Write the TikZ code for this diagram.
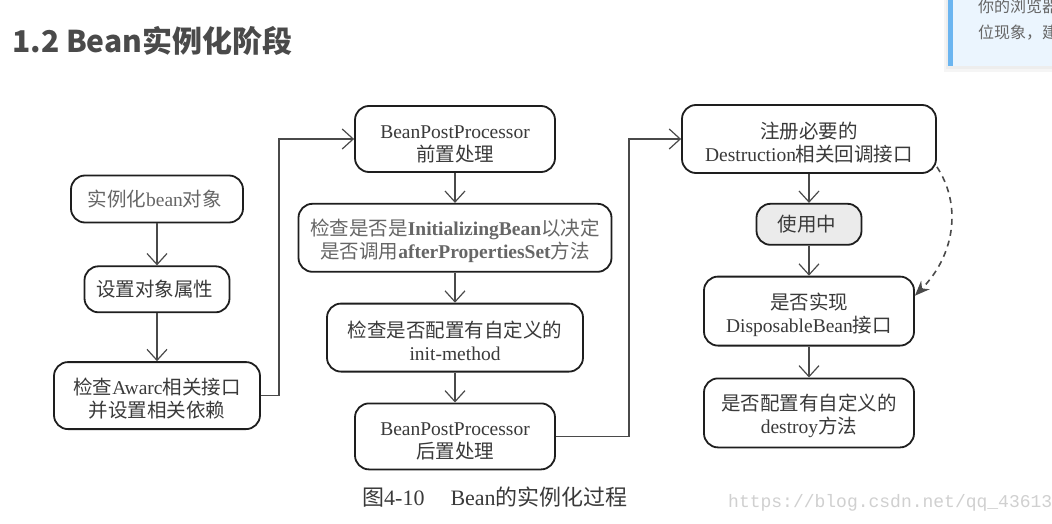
\documentclass[tikz,border=0pt]{standalone}
\usepackage{fontspec}
\setmainfont{Noto Sans CJK SC}
\newfontfamily\enfont{Liberation Serif}
\newfontfamily\monofont{Liberation Mono}
\newcommand{\en}[1]{{\enfont #1}}
\usetikzlibrary{arrows.meta, positioning}
\definecolor{boxline}{HTML}{1E1E1E}
\definecolor{boxtext}{HTML}{3A3A3A}
\definecolor{greytext}{HTML}{666666}
\definecolor{linegrey}{HTML}{4A4A4A}
\definecolor{usefill}{HTML}{EBEBEB}
\definecolor{headgrey}{HTML}{4A4A4A}
\definecolor{tipfill}{HTML}{EBF5FE}
\definecolor{tipbar}{HTML}{6BB5F0}
\definecolor{markgrey}{HTML}{D0D0D0}

\begin{document}
\begin{tikzpicture}[
        x=1pt, y=-1pt,
        box/.style={
            draw=boxline,
            line width=1.8pt,
            rounded corners=14pt,
            align=center,
            text=boxtext,
            inner sep=2pt,
            font=\fontsize{19.5}{23}\selectfont
        },
        tall/.style={
            text height=46pt
        },
        arr/.style={
            -{Straight Barb[length=11pt, width=20pt]},
            line width=1.2pt,
            draw=linegrey
        },
        dasharr/.style={
            -{Stealth[length=15pt, width=12pt]},
            line width=1.6pt,
            dash pattern=on 6pt off 5pt,
            draw=linegrey
        },
        plain/.style={
            anchor=base west,
            inner sep=0pt
        },
        node distance=30pt
    ]
        \clip (0,0) rectangle (1052,524);
        \fill[white] (0,0) rectangle (1052,524);

        \node[plain, text=headgrey, font=\fontsize{30}{30}\selectfont\bfseries] (title) at (12,53) {1.2 Bean实例化阶段};

        \fill[black!4] (944,0) rectangle (1052,72);
        \fill[black!7] (946,0) rectangle (1052,69);
        \fill[tipfill] (948,0) rectangle (1052,66);
        \fill[tipbar] (948,0) rectangle (953,66);
        \node[plain, text=greytext, font=\fontsize{16}{16}\selectfont] (tipa) at (978,13) {你的浏览器};
        \node[plain, text=greytext, font=\fontsize{16}{16}\selectfont] (tipb) at (978,39) {位现象，建};

        \node[box, text=greytext, minimum width=172pt, minimum height=47pt] (inst) at (157,199) {
            实例化\en{bean}对象
        };
        \node[box, minimum width=145pt, minimum height=46pt, below=42pt of inst] (props) {
            设置对象属性
        };
        \node[box, tall, minimum width=206pt, minimum height=67pt, below=48pt of props] (aware) {
            检查\en{Awarc}相关接口\\
            并设置相关依赖
        };

        \node[box, tall, minimum width=200pt, minimum height=66pt] (prebpp) at (455,139) {
            \en{BeanPostProcessor}\\
            前置处理
        };
        \node[box, tall, text=greytext, minimum width=313pt, minimum height=68pt, below=of prebpp] (initbean) {
            检查是否是\en{\bfseries InitializingBean}以决定\\
            是否调用\en{\bfseries afterPropertiesSet}方法
        };
        \node[box, tall, minimum width=256pt, minimum height=68pt, below=of initbean] (initmethod) {
            检查是否配置有自定义的\\
            \en{init-method}
        };
        \node[box, tall, minimum width=200pt, minimum height=66pt, below=of initmethod] (postbpp) {
            \en{BeanPostProcessor}\\
            后置处理
        };

        \node[box, tall, minimum width=254pt, minimum height=68pt] (regdestroy) at (809,139) {
            注册必要的\\
            \en{Destruction}相关回调接口
        };
        \node[box, fill=usefill, minimum width=105pt, minimum height=41pt, below=29pt of regdestroy] (inuse) {
            使用中
        };
        \node[box, tall, minimum width=210pt, minimum height=69pt, below=of inuse] (disposable) {
            是否实现\\
            \en{DisposableBean}接口
        };
        \node[box, tall, minimum width=210pt, minimum height=69pt, below=31pt of disposable] (destroymethod) {
            是否配置有自定义的\\
            \en{destroy}方法
        };

        \draw[arr] (inst) -- (props);
        \draw[arr] (props) -- (aware);
        \draw[arr] (aware.east) -- ++(18,0) |- (prebpp.west);
        \draw[arr] (prebpp) -- (initbean);
        \draw[arr] (initbean) -- (initmethod);
        \draw[arr] (initmethod) -- (postbpp);
        \draw[arr] (postbpp.east) -- ++(73,0) |- (regdestroy.west);
        \draw[arr] (regdestroy) -- (inuse);
        \draw[arr] (inuse) -- (disposable);
        \draw[arr] (disposable) -- (destroymethod);
        \draw[dasharr] ([yshift=7pt]regdestroy.south east) .. controls (962,205) and (955,255) .. ([yshift=-20pt]disposable.north east);

        \node[plain, text=boxtext, font=\fontsize{22}{22}\selectfont] (caption) at (362,505) {
            图\en{4-10}\hspace{26pt}\en{Bean}的实例化过程
        };
        \node[plain, text=markgrey, font=\monofont\fontsize{18}{18}\selectfont] (mark) at (728,507) {https://blog.csdn.net/qq\_43613344};
    \end{tikzpicture}
\end{document}
